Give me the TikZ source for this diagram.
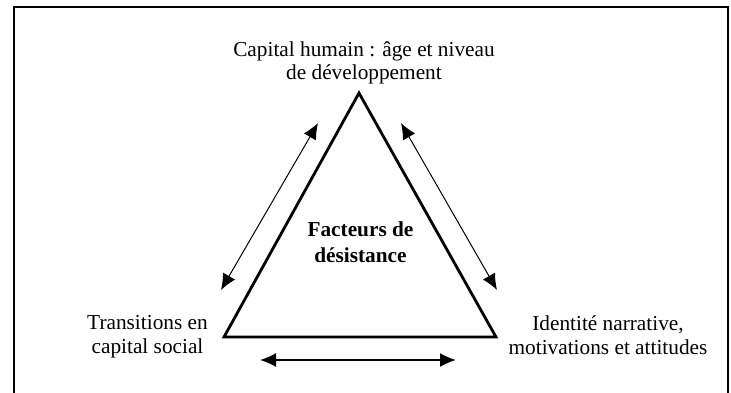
\documentclass[tikz,border=0pt]{standalone}
\usepackage{fontspec}
\setmainfont{Liberation Serif}
\usepackage{tikz}
\usetikzlibrary{arrows.meta,positioning,calc}
\tikzset{>={Latex[length=16pt,width=14pt]}}

\begin{document}
\begin{tikzpicture}[x=1pt,y=-1pt,
    facteur/.style={align=center,inner sep=0pt,anchor=base,
      font=\fontsize{21.3}{23.5}\selectfont},
    centre/.style={align=center,inner sep=0pt,anchor=base,
      font=\fontsize{21.3}{26}\selectfont\bfseries},
    lien/.style={<->,line width=1pt}]

  \useasboundingbox (0,0) rectangle (731,392);
  \draw[line width=2.5pt] (14,7) rectangle (728,420);

  % sommets du triangle
  \coordinate (haut) at (359,93);
  \coordinate (gauche) at (224,337);
  \coordinate (droite) at (496,337);
  \draw[line width=2.8pt,line join=miter] (haut) -- (droite) -- (gauche) -- cycle;

  % anchor=base : ligne du bas
  \node[facteur] (capital) at (364,79.5) {Capital humain : âge et niveau\\de développement};
  \node[facteur] (transitions) at (147.5,353) {Transitions en\\capital social};
  \node[facteur] (identite) at (608,354) {Identité narrative,\\motivations et attitudes};
  \node[centre] (desistance) at (360.5,262) {Facteurs de\\désistance};

  % fleches
  \coordinate (hg) at (318,123);
  \coordinate (bg) at (221,290);
  \coordinate (hd) at (401,123);
  \coordinate (bd) at (497,290);
  \coordinate (ga) at (260,360);
  \coordinate (da) at (456,360);
  \draw[lien] (hg) -- (bg);
  \draw[lien] (hd) -- (bd);
  \draw[lien,line width=1.5pt] (ga) -- (da);

\end{tikzpicture}
\end{document}
